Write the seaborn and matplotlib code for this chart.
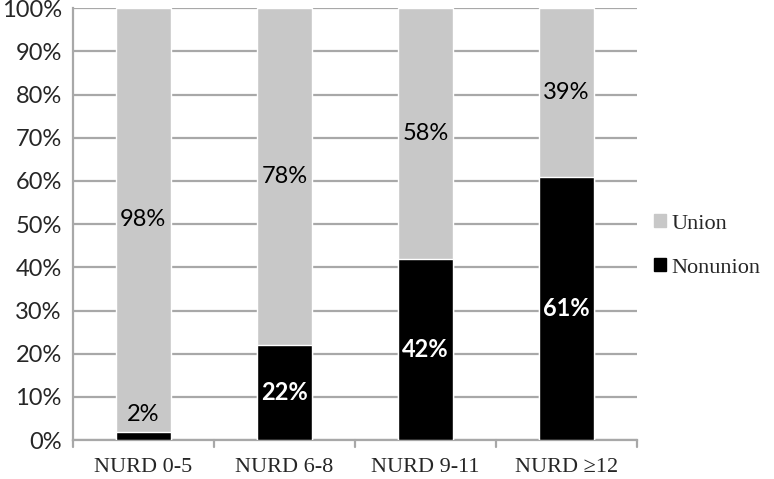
import matplotlib.pyplot as plt
import matplotlib.patches as mpatches
import numpy as np
import pandas as pd
import seaborn as sns


categories = ["NURD 0-5", "NURD 6-8", "NURD 9-11", "NURD \u226512"]
nonunion = [2, 22, 42, 61]
union = [98, 78, 58, 39]

UNION_COLOR = "#c8c8c8"
NONUNION_COLOR = "#000000"
GRID_COLOR = "#a8a8a8"
SERIF = ["Liberation Serif", "DejaVu Serif"]


def main():
    sns.set_style("white")
    plt.rcParams["font.family"] = ["Lato", "DejaVu Sans"]

    df = pd.DataFrame({"category": categories, "nonunion": nonunion, "union": union})
    df["total"] = df["nonunion"] + df["union"]

    fig = plt.figure(figsize=(7.74, 4.79), dpi=100)
    ax = fig.add_axes([0.094, 0.081, 0.729, 0.902])

    # union drawn as full stack, nonunion drawn over it
    sns.barplot(data=df, x="category", y="total", color=UNION_COLOR, width=0.39,
                saturation=1, ax=ax, zorder=3)
    sns.barplot(data=df, x="category", y="nonunion", color=NONUNION_COLOR, width=0.39,
                saturation=1, ax=ax, zorder=3)

    for i, (n, u) in enumerate(zip(nonunion, union)):
        ax.text(i, n + u / 2, f"{u}%", ha="center", va="center", fontsize=17,
                color="black", zorder=5)
        if n < 8:
            ax.text(i, n + 1.5, f"{n}%", ha="center", va="bottom", fontsize=17,
                    color="black", zorder=5)
        else:
            ax.text(i, n / 2, f"{n}%", ha="center", va="center", fontsize=17,
                    color="white", fontweight="bold", zorder=5)

    ax.set_ylim(0, 100)
    ax.set_xlim(-0.5, len(categories) - 0.5)
    ax.set_yticks(np.arange(0, 101, 10))
    ax.set_yticklabels([f"{v}%" for v in range(0, 101, 10)], fontsize=17)
    ax.yaxis.grid(True, color=GRID_COLOR, linewidth=1.6, zorder=0)
    ax.set_axisbelow(True)

    ax.set_xticks(range(len(categories)))
    ax.set_xticklabels(categories, fontsize=16, family=SERIF)
    ax.tick_params(axis="x", length=0, pad=13)
    ax.tick_params(axis="y", length=5, width=1.6, color=GRID_COLOR, pad=3, direction="out")
    for b in np.arange(-0.5, len(categories) + 0.5, 1.0):
        ax.plot([b, b], [0, -1.6], color=GRID_COLOR, lw=1.6, clip_on=False)

    ax.set_xlabel("")
    ax.set_ylabel("")
    for side in ["top", "right"]:
        ax.spines[side].set_visible(False)
    for side in ["left", "bottom"]:
        ax.spines[side].set_color(GRID_COLOR)
        ax.spines[side].set_linewidth(1.6)

    handles = [mpatches.Patch(color=UNION_COLOR, label="Union"),
               mpatches.Patch(color=NONUNION_COLOR, label="Nonunion")]
    fig.legend(handles=handles, loc="center left", bbox_to_anchor=(0.845, 0.487),
               frameon=False, handlelength=0.55, handleheight=0.55, handletextpad=0.25,
               labelspacing=1.1, borderpad=0, borderaxespad=0,
               prop={"family": SERIF, "size": 16})

    fig.savefig("out.png", dpi=100)
    plt.close(fig)


if __name__ == "__main__":
    main()
